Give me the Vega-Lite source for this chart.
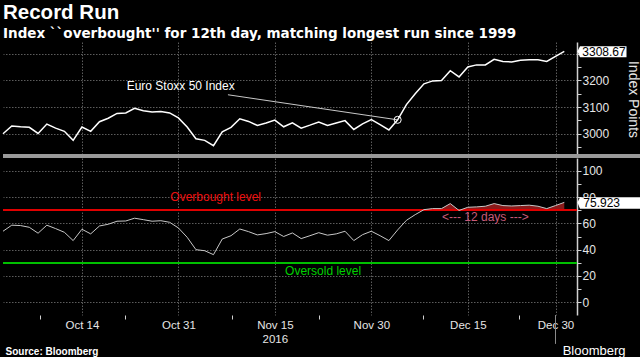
{
  "$schema": "https://vega.github.io/schema/vega-lite/v6.json",
  "background": "#000000",
  "padding": {"left": 0, "top": 3, "right": 0, "bottom": 0},
  "bounds": "flush",
  "spacing": 2,
  "title": {
    "text": "Record Run",
    "subtitle": "Index ``overbought'' for 12th day, matching longest run since 1999",
    "anchor": "start",
    "frame": "group",
    "font": "Liberation Sans",
    "fontSize": 20.5,
    "fontWeight": "bold",
    "color": "#ffffff",
    "subtitleFont": "DejaVu Sans",
    "subtitleFontSize": 13.5,
    "subtitleFontWeight": "bold",
    "subtitleColor": "#ffffff",
    "subtitlePadding": 3,
    "offset": 2
  },
  "data": {
    "values": [
      {"day": 0, "date": "2016-10-03", "sx5e": 3000, "rsi": 54},
      {"day": 1, "date": "2016-10-04", "sx5e": 3029, "rsi": 58.6},
      {"day": 2, "date": "2016-10-05", "sx5e": 3026, "rsi": 58.3},
      {"day": 3, "date": "2016-10-06", "sx5e": 3024, "rsi": 57},
      {"day": 4, "date": "2016-10-07", "sx5e": 3001, "rsi": 52.5},
      {"day": 5, "date": "2016-10-10", "sx5e": 3036, "rsi": 58.6},
      {"day": 6, "date": "2016-10-11", "sx5e": 3021, "rsi": 56},
      {"day": 7, "date": "2016-10-12", "sx5e": 3009, "rsi": 53.2},
      {"day": 8, "date": "2016-10-13", "sx5e": 2975, "rsi": 46.9},
      {"day": 9, "date": "2016-10-14", "sx5e": 3025, "rsi": 55.5},
      {"day": 10, "date": "2016-10-17", "sx5e": 3009, "rsi": 52},
      {"day": 11, "date": "2016-10-18", "sx5e": 3045, "rsi": 58},
      {"day": 12, "date": "2016-10-19", "sx5e": 3058, "rsi": 59.3},
      {"day": 13, "date": "2016-10-20", "sx5e": 3076, "rsi": 61.6},
      {"day": 14, "date": "2016-10-21", "sx5e": 3078, "rsi": 61.8},
      {"day": 15, "date": "2016-10-24", "sx5e": 3095, "rsi": 63.9},
      {"day": 16, "date": "2016-10-25", "sx5e": 3086, "rsi": 62.8},
      {"day": 17, "date": "2016-10-26", "sx5e": 3081, "rsi": 61.6},
      {"day": 18, "date": "2016-10-27", "sx5e": 3083, "rsi": 62},
      {"day": 19, "date": "2016-10-28", "sx5e": 3078, "rsi": 60.8},
      {"day": 20, "date": "2016-10-31", "sx5e": 3059, "rsi": 56.5},
      {"day": 21, "date": "2016-11-01", "sx5e": 3025, "rsi": 49.4},
      {"day": 22, "date": "2016-11-02", "sx5e": 2981, "rsi": 40},
      {"day": 23, "date": "2016-11-03", "sx5e": 2975, "rsi": 39.2},
      {"day": 24, "date": "2016-11-04", "sx5e": 2955, "rsi": 36.2},
      {"day": 25, "date": "2016-11-07", "sx5e": 3007, "rsi": 48.1},
      {"day": 26, "date": "2016-11-08", "sx5e": 3024, "rsi": 50.6},
      {"day": 27, "date": "2016-11-09", "sx5e": 3056, "rsi": 55.7},
      {"day": 28, "date": "2016-11-10", "sx5e": 3046, "rsi": 53.7},
      {"day": 29, "date": "2016-11-11", "sx5e": 3031, "rsi": 51.2},
      {"day": 30, "date": "2016-11-14", "sx5e": 3040, "rsi": 52.2},
      {"day": 31, "date": "2016-11-15", "sx5e": 3051, "rsi": 53.7},
      {"day": 32, "date": "2016-11-16", "sx5e": 3026, "rsi": 50},
      {"day": 33, "date": "2016-11-17", "sx5e": 3041, "rsi": 52.7},
      {"day": 34, "date": "2016-11-18", "sx5e": 3021, "rsi": 48.4},
      {"day": 35, "date": "2016-11-21", "sx5e": 3032, "rsi": 50.6},
      {"day": 36, "date": "2016-11-22", "sx5e": 3044, "rsi": 52.9},
      {"day": 37, "date": "2016-11-23", "sx5e": 3031, "rsi": 51},
      {"day": 38, "date": "2016-11-24", "sx5e": 3040, "rsi": 52},
      {"day": 39, "date": "2016-11-25", "sx5e": 3049, "rsi": 54},
      {"day": 40, "date": "2016-11-28", "sx5e": 3016, "rsi": 46.9},
      {"day": 41, "date": "2016-11-29", "sx5e": 3037, "rsi": 51.4},
      {"day": 42, "date": "2016-11-30", "sx5e": 3053, "rsi": 54},
      {"day": 43, "date": "2016-12-01", "sx5e": 3034, "rsi": 50.6},
      {"day": 44, "date": "2016-12-02", "sx5e": 3014, "rsi": 46.9},
      {"day": 45, "date": "2016-12-05", "sx5e": 3052, "rsi": 55},
      {"day": 46, "date": "2016-12-06", "sx5e": 3109, "rsi": 62.3},
      {"day": 47, "date": "2016-12-07", "sx5e": 3150, "rsi": 66.6},
      {"day": 48, "date": "2016-12-08", "sx5e": 3187, "rsi": 70.4},
      {"day": 49, "date": "2016-12-09", "sx5e": 3198, "rsi": 71.2},
      {"day": 50, "date": "2016-12-12", "sx5e": 3199, "rsi": 71.2},
      {"day": 51, "date": "2016-12-13", "sx5e": 3236, "rsi": 75},
      {"day": 52, "date": "2016-12-14", "sx5e": 3213, "rsi": 69.8},
      {"day": 53, "date": "2016-12-15", "sx5e": 3250, "rsi": 72.2},
      {"day": 54, "date": "2016-12-16", "sx5e": 3258, "rsi": 72.5},
      {"day": 55, "date": "2016-12-19", "sx5e": 3258, "rsi": 73},
      {"day": 56, "date": "2016-12-20", "sx5e": 3279, "rsi": 75},
      {"day": 57, "date": "2016-12-21", "sx5e": 3271, "rsi": 73.5},
      {"day": 58, "date": "2016-12-22", "sx5e": 3269, "rsi": 73.2},
      {"day": 59, "date": "2016-12-23", "sx5e": 3275, "rsi": 73.5},
      {"day": 60, "date": "2016-12-27", "sx5e": 3277, "rsi": 73.8},
      {"day": 61, "date": "2016-12-28", "sx5e": 3277, "rsi": 73},
      {"day": 62, "date": "2016-12-29", "sx5e": 3271, "rsi": 71.2},
      {"day": 63, "date": "2016-12-30", "sx5e": 3290, "rsi": 73.5},
      {"day": 64, "date": "2017-01-02", "sx5e": 3308.67, "rsi": 75.923}
    ]
  },
  "vconcat": [
    {
      "width": 574,
      "height": 114,
      "layer": [
        {
          "mark": {"type": "line", "color": "#ffffff", "strokeWidth": 1.5},
          "encoding": {
            "x": {
              "field": "day", "type": "quantitative",
              "scale": {"domain": [0, 65.45], "nice": false, "zero": false},
              "axis": {"orient": "bottom", "values": [9, 20, 31, 42, 53, 63], "tickCount": 40, "labels": false, "ticks": false, "domain": false, "grid": true, "title": null}
            },
            "y": {
              "field": "sx5e", "type": "quantitative",
              "scale": {"domain": [2916.4, 3343.8], "nice": false, "zero": false},
              "axis": {
                "orient": "right",
                "values": [2950, 3000, 3050, 3100, 3150, 3200, 3250, 3300],
                "tickCount": 40,
                "format": "d",
                "labelOverlap": false,
                "labelExpr": "datum.value % 100 == 0 && datum.value < 3300 ? datum.label : ''",
                "gridOpacity": {"condition": {"test": "datum.value % 100 != 0", "value": 0}, "value": 1},
                "domain": true, "domainColor": "#d0d0d0", "domainWidth": 1.5,
                "tickSize": 4, "labelPadding": 1,
                "title": "Index Points",
                "titleAngle": 90, "titleX": 55, "titleY": 57,
                "titleAlign": "center", "titleBaseline": "middle",
                "titleFontSize": 14, "titleFontWeight": "normal"
              }
            }
          }
        },
        {
          "mark": {"type": "rule", "color": "#9a9a9a", "strokeWidth": 2.5, "clip": false},
          "encoding": {
            "x": {"datum": 0, "type": "quantitative"},
            "x2": {"datum": 73},
            "y": {"datum": 2916.4, "type": "quantitative"}
          }
        },
        {
          "data": {"values": [{"day": 25.65, "v": 3146, "day2": 45, "v2": 3052}]},
          "mark": {"type": "rule", "color": "#c8c8c8", "strokeWidth": 1},
          "encoding": {
            "x": {"field": "day", "type": "quantitative"},
            "y": {"field": "v", "type": "quantitative"},
            "x2": {"field": "day2"},
            "y2": {"field": "v2"}
          }
        },
        {
          "data": {"values": [{"day": 45, "v": 3052}]},
          "mark": {"type": "point", "shape": "circle", "filled": false, "size": 50, "color": "#ffffff", "strokeWidth": 1, "opacity": 1},
          "encoding": {
            "x": {"field": "day", "type": "quantitative"},
            "y": {"field": "v", "type": "quantitative"}
          }
        },
        {
          "data": {"values": [{"day": 20.26, "v": 3177.7, "label": "Euro Stoxx 50 Index"}]},
          "mark": {"type": "text", "color": "#ffffff", "fontSize": 12, "font": "Liberation Sans", "align": "center", "baseline": "middle"},
          "encoding": {
            "x": {"field": "day", "type": "quantitative"},
            "y": {"field": "v", "type": "quantitative"},
            "text": {"field": "label"}
          }
        },
        {
          "data": {"values": [{"day": 64, "v": 3308.67, "label": "3308.67"}]},
          "layer": [
            {
              "mark": {"type": "point", "shape": "M1.32,0L1.57,-0.5L6.22,-0.5L6.22,0.6L1.57,0.6Z", "size": 400, "filled": true, "color": "#ffffff", "opacity": 1, "strokeWidth": 0, "clip": false},
              "encoding": {
                "x": {"field": "day", "type": "quantitative"},
                "y": {"field": "v", "type": "quantitative"}
              }
            },
            {
              "mark": {"type": "text", "color": "#000000", "fontSize": 12, "font": "Liberation Sans", "align": "left", "baseline": "middle", "dx": 18, "dy": 1},
              "encoding": {
                "x": {"field": "day", "type": "quantitative"},
                "y": {"field": "v", "type": "quantitative"},
                "text": {"field": "label"}
              }
            }
          ]
        }
      ]
    },
    {
      "width": 574,
      "height": 157,
      "layer": [
        {
          "transform": [{"filter": "datum.day >= 48"}],
          "mark": {"type": "area", "color": "#8a1a1a", "opacity": 1},
          "encoding": {
            "x": {
              "field": "day", "type": "quantitative",
              "scale": {"domain": [0, 65.45], "nice": false, "zero": false},
              "axis": {
                "orient": "bottom",
                "values": [4.2, 9, 13.9, 20, 26.1, 31, 36, 42, 47.9, 53, 58.8, 63],
                "tickCount": 40,
                "labelOverlap": false,
                "labelExpr": "datum.value == 9 ? 'Oct 14' : datum.value == 20 ? 'Oct 31' : datum.value == 31 ? ['Nov 15', '2016'] : datum.value == 42 ? 'Nov 30' : datum.value == 53 ? 'Dec 15' : datum.value == 63 ? 'Dec 30' : ''",
                "gridOpacity": {"condition": {"test": "indexof([9, 20, 31, 42, 53, 63], datum.value) < 0", "value": 0}, "value": 1},
                "tickOpacity": {"condition": {"test": "indexof([9, 20, 31, 42, 53, 63], datum.value) < 0", "value": 1}, "value": 0},
                "tickSize": 4,
                "domain": false,
                "grid": true,
                "labelFontSize": 11.5,
                "labelPadding": 0,
                "labelLineHeight": 14,
                "labelBaseline": "top",
                "title": "Source: Bloomberg",
                "titleFont": "Liberation Sans",
                "titleFontSize": 10,
                "titleFontWeight": "bold",
                "titleColor": "#ffffff",
                "titleX": 2,
                "titleY": 36,
                "titleAlign": "left",
                "titleAnchor": "start",
                "titleBaseline": "middle"
              }
            },
            "y": {
              "field": "rsi", "type": "quantitative",
              "scale": {"domain": [-9.65, 109.65], "nice": false, "zero": false},
              "axis": {
                "orient": "right",
                "values": [0, 10, 20, 30, 40, 50, 60, 70, 80, 90, 100],
                "tickCount": 40,
                "labelOverlap": false,
                "labelExpr": "datum.value % 20 == 0 ? datum.label : ''",
                "gridOpacity": {"condition": {"test": "datum.value % 20 != 0", "value": 0}, "value": 1},
                "domain": true, "domainColor": "#d0d0d0", "domainWidth": 1.5,
                "tickSize": 4, "labelPadding": 1,
                "title": "Bloomberg",
                "titleAngle": 0, "titleX": 48, "titleY": 192,
                "titleAlign": "right", "titleBaseline": "middle",
                "titleFontSize": 13, "titleFontWeight": "normal", "titleColor": "#ffffff"
              }
            },
            "y2": {"datum": 70}
          }
        },
        {
          "mark": {"type": "rule", "color": "#e00000", "strokeWidth": 1.5},
          "encoding": {"y": {"datum": 70, "type": "quantitative"}}
        },
        {
          "mark": {"type": "rule", "color": "#00c000", "strokeWidth": 1.5},
          "encoding": {"y": {"datum": 30, "type": "quantitative"}}
        },
        {
          "mark": {"type": "line", "color": "#c8c8c8", "strokeWidth": 1},
          "encoding": {
            "x": {"field": "day", "type": "quantitative"},
            "y": {"field": "rsi", "type": "quantitative"}
          }
        },
        {
          "data": {"values": [
            {"day": 24.25, "v": 80, "label": "Overbought level", "kind": "over"},
            {"day": 36.5, "v": 24, "label": "Oversold level", "kind": "under"},
            {"day": 55.0, "v": 64.5, "label": "<--- 12 days --->", "kind": "run"}
          ]},
          "mark": {"type": "text", "fontSize": 12, "font": "Liberation Sans", "align": "center", "baseline": "middle"},
          "encoding": {
            "x": {"field": "day", "type": "quantitative"},
            "y": {"field": "v", "type": "quantitative"},
            "text": {"field": "label"},
            "color": {
              "field": "kind", "type": "nominal",
              "scale": {"domain": ["over", "under", "run"], "range": ["#ee1111", "#00d000", "#c85a78"]},
              "legend": null
            }
          }
        },
        {
          "mark": {"type": "rule", "color": "#8a8a8a", "strokeWidth": 1, "clip": false},
          "encoding": {
            "x": {"datum": 63, "type": "quantitative"},
            "y": {"datum": -9.65, "type": "quantitative"},
            "y2": {"datum": -31}
          }
        },
        {
          "data": {"values": [{"day": 64, "v": 75.923, "label": "75.923"}]},
          "layer": [
            {
              "mark": {"type": "point", "shape": "M1.32,0L1.57,-0.51L8.4,-0.51L8.4,0.63L1.57,0.63Z", "size": 400, "filled": true, "color": "#ffffff", "opacity": 1, "strokeWidth": 0, "clip": false},
              "encoding": {
                "x": {"field": "day", "type": "quantitative"},
                "y": {"field": "v", "type": "quantitative"}
              }
            },
            {
              "mark": {"type": "text", "color": "#000000", "fontSize": 12, "font": "Liberation Sans", "align": "left", "baseline": "middle", "dx": 19, "dy": 1},
              "encoding": {
                "x": {"field": "day", "type": "quantitative"},
                "y": {"field": "v", "type": "quantitative"},
                "text": {"field": "label"}
              }
            }
          ]
        }
      ]
    }
  ],
  "config": {
    "background": "#000000",
    "view": {"stroke": null},
    "font": "Liberation Sans",
    "axis": {
      "labelFont": "Liberation Sans",
      "labelFontSize": 12,
      "labelColor": "#e6e6e6",
      "labelOverlap": false,
      "titleFont": "Liberation Sans",
      "titleColor": "#e6e6e6",
      "gridColor": "#5c5c5c",
      "gridDash": [1.5, 1.5],
      "gridWidth": 1,
      "tickColor": "#d0d0d0",
      "domainColor": "#d0d0d0"
    }
  }
}
